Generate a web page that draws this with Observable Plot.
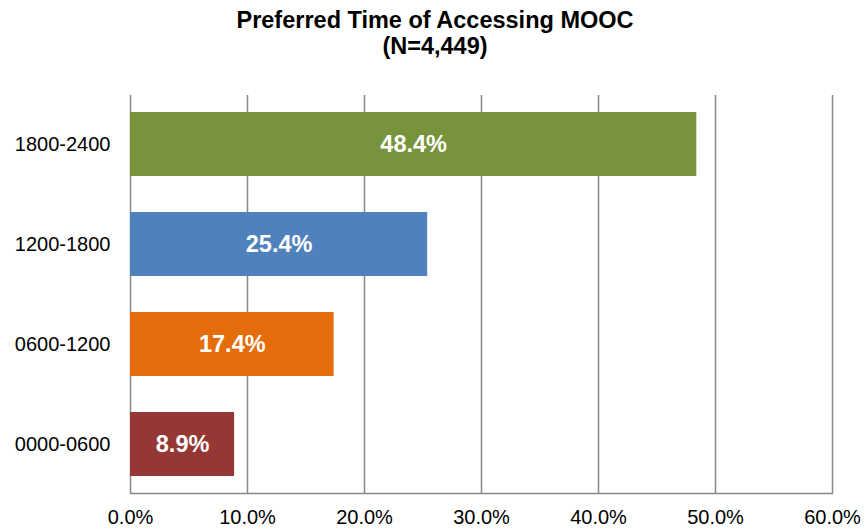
<!DOCTYPE html>
<html>
<head>
<meta charset="utf-8">
<script src="https://cdn.jsdelivr.net/npm/d3@7"></script>
<script src="https://cdn.jsdelivr.net/npm/@observablehq/plot@0.6"></script>
<style>
  body { margin: 0; background: #fff; font-family: "Liberation Sans", Arial, sans-serif; }
  #title { width: 866px; height: 60px; box-sizing: border-box; padding-left: 4px; padding-top: 7px;
           text-align: center; font-weight: bold; font-size: 23.5px; line-height: 26px; color: #000; }
  #chart g[aria-label="x-axis tick label"] text { font-size: 20px; }
  #chart g[aria-label="y-axis tick label"] text { font-size: 20px; }
</style>
</head>
<body>
<div id="title">Preferred Time of Accessing MOOC<br>(N=4,449)</div>
<div id="chart"></div>
<script>
// Time slots, top to bottom
const slots = ["1800-2400", "1200-1800", "0600-1200", "0000-0600"];
// Share of respondents (%)
const shares = [48.4, 25.4, 17.4, 8.9];
// Bar fill per slot
const colors = ["#77933C", "#4F81BD", "#E46C0A", "#953735"];
// Percent axis ticks
const ticks = [0, 10, 20, 30, 40, 50, 60];

const data = slots.map((slot, i) => ({slot, share: shares[i], color: colors[i]}));
const pct = d => d.toFixed(1) + "%";

const chart = Plot.plot({
  width: 866,
  height: 469,
  marginLeft: 130,
  marginRight: 34,
  marginTop: 35,
  marginBottom: 36,
  style: {fontFamily: "'Liberation Sans', Arial, sans-serif", fontSize: "20px", color: "#000", background: "#fff"},
  x: {domain: [0, 60], ticks, tickFormat: pct, label: null},
  y: {domain: slots, paddingInner: 0.36, paddingOuter: 0.17, label: null},
  marks: [
    Plot.ruleX(ticks, {stroke: "#888", strokeWidth: 1.5, strokeOpacity: 1}),
    Plot.frame({anchor: "bottom", stroke: "#888", strokeWidth: 1.5}),
    Plot.barX(data, {x: "share", y: "slot", fill: "color"}),
    Plot.text(data, {x: d => d.share / 2, y: "slot", text: d => pct(d.share),
      fill: "white", fontWeight: "bold", fontSize: 23.5}),
    Plot.axisX({ticks, tickFormat: pct, tickSize: 0, tickPadding: 16, label: null}),
    Plot.axisY({tickSize: 0, tickPadding: 20, label: null})
  ]
});
document.getElementById("chart").append(chart);
</script>
</body>
</html>
